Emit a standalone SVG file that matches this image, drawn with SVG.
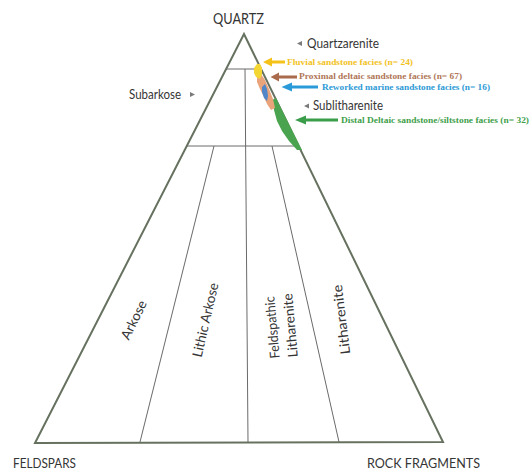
<svg xmlns="http://www.w3.org/2000/svg" width="531" height="472" viewBox="0 0 531 472">
<style>
.lbl{font-family:Lato,"Liberation Sans",sans-serif;fill:#353535}
.fac{font-family:"Liberation Serif",serif;font-weight:bold;font-size:8.5px}
.edge{fill:none;stroke:#66725f;stroke-width:2;stroke-linejoin:miter}
.div{fill:none;stroke:#6a6a6a;stroke-width:1}
.mk{fill:#7a7a7a}
</style>
<rect width="531" height="472" fill="#ffffff"/>
<g id="diagram-lines">
<polygon class="edge" points="244,34 35,443 443,442"/>
<line class="div" x1="226.3" y1="69" x2="261" y2="69"/>
<line class="div" x1="187" y1="146" x2="298.6" y2="146"/>
<line class="div" x1="245" y1="69" x2="248" y2="442"/>
<line class="div" x1="214" y1="146" x2="140" y2="442"/>
<line class="div" x1="272" y1="146" x2="339" y2="442"/>
</g>
<g id="data-fields">
<polygon fill="#4aa34e" points="272,100 276,98 282,110 289,124 296,138 302,150 297,150 289,141 282,131 277,121 274,110"/>
<polygon fill="#e9a47c" points="257,77 261,74 265,80 269,89 273,99 275,108 271,110 267,104 264,97 260,89 257,82"/>
<polygon fill="#4f87c9" points="262,87 265,84 267,89 268,96 267,101 264,98 262,92"/>
<polygon fill="#f3d632" points="254,68 257,64 260,64 262,68 262,74 260,79 256,77 254,73"/>
</g>
<g id="title-quartz"><text class="lbl" x="213" y="24" font-size="15" textLength="51" lengthAdjust="spacingAndGlyphs">QUARTZ</text></g>
<g id="title-feldspars"><text class="lbl" x="13" y="468" font-size="13.5" textLength="63" lengthAdjust="spacingAndGlyphs">FELDSPARS</text></g>
<g id="title-rock"><text class="lbl" x="367" y="468" font-size="14" textLength="113" lengthAdjust="spacingAndGlyphs">ROCK FRAGMENTS</text></g>
<g id="quartzarenite">
<polygon class="mk" points="297,43.5 302,41 302,46"/>
<text class="lbl" x="307" y="47.5" font-size="14" textLength="72" lengthAdjust="spacingAndGlyphs">Quartzarenite</text>
</g>
<g id="subarkose">
<text class="lbl" x="129" y="98.5" font-size="14" textLength="52" lengthAdjust="spacingAndGlyphs">Subarkose</text>
<polygon class="mk" points="195,94.5 190,92 190,97"/>
</g>
<g id="sublitharenite">
<polygon class="mk" points="304,106 309,103.5 309,108.5"/>
<text class="lbl" x="313" y="109.5" font-size="14" textLength="70" lengthAdjust="spacingAndGlyphs">Sublitharenite</text>
</g>
<g id="arkose"><text class="lbl" font-size="13.5" text-anchor="middle" transform="translate(138,322) rotate(-64)" textLength="42" lengthAdjust="spacingAndGlyphs">Arkose</text></g>
<g id="lithic-arkose"><text class="lbl" font-size="13.5" text-anchor="middle" transform="translate(210,321) rotate(-77)" textLength="76" lengthAdjust="spacingAndGlyphs">Lithic Arkose</text></g>
<g id="feldspathic-litharenite">
<text class="lbl" font-size="13.5" text-anchor="middle" transform="translate(277,327) rotate(-95)" textLength="62" lengthAdjust="spacingAndGlyphs">Feldspathic</text>
<text class="lbl" font-size="13.5" text-anchor="middle" transform="translate(295,325) rotate(-95)" textLength="64" lengthAdjust="spacingAndGlyphs">Litharenite</text>
</g>
<g id="litharenite"><text class="lbl" font-size="13.5" text-anchor="middle" transform="translate(346,319) rotate(-97)" textLength="70" lengthAdjust="spacingAndGlyphs">Litharenite</text></g>
<g id="connectors">
<polygon fill="#f5c21a" points="263,62 272,57.5 272,60.5 285,60.5 285,63.5 272,63.5 272,66.5"/>
<polygon fill="#a96b4c" points="270.5,77 279,72.5 279,75.5 297,75.5 297,78.5 279,78.5 279,81.5"/>
<polygon fill="#2a9ad8" points="281.5,87 292,82.5 292,85.5 318,85.5 318,88.5 292,88.5 292,91.5"/>
<polygon fill="#3a9d49" points="295,120 306,115.5 306,118.5 338,118.5 338,121.5 306,121.5 306,124.5"/>
</g>
<g id="facies-labels">
<text class="fac" x="287" y="65" fill="#f2c21e" textLength="126" lengthAdjust="spacingAndGlyphs">Fluvial sandstone facies (n= 24)</text>
<text class="fac" x="299" y="79" fill="#b07657" textLength="163" lengthAdjust="spacingAndGlyphs">Proximal deltaic sandstone facies (n= 67)</text>
<text class="fac" x="322" y="90" fill="#2d9ad6" textLength="168" lengthAdjust="spacingAndGlyphs">Reworked marine sandstone facies (n= 16)</text>
<text class="fac" x="341" y="122.5" fill="#3f9f4c" textLength="188" lengthAdjust="spacingAndGlyphs">Distal Deltaic sandstone/siltstone facies (n= 32)</text>
</g>
</svg>
